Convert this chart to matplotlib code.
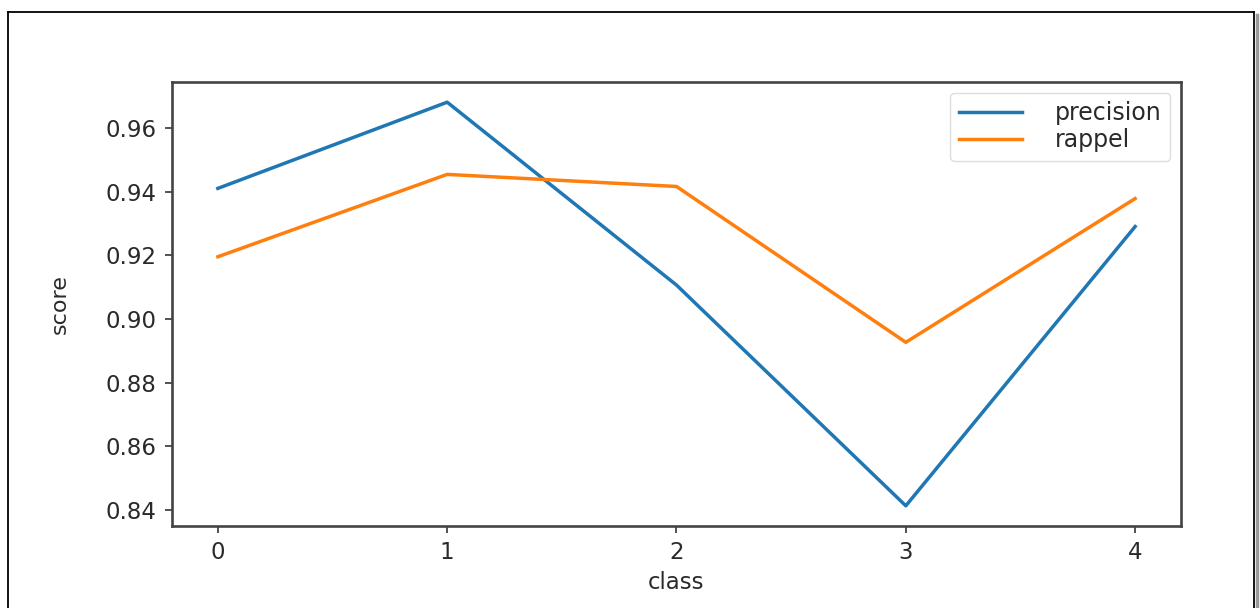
import matplotlib
matplotlib.use("Agg")
import matplotlib.pyplot as plt
from matplotlib.lines import Line2D

# per-class scores
classes = [0, 1, 2, 3, 4]
precision = [0.9411, 0.9682, 0.9107, 0.8413, 0.9291]
rappel = [0.9196, 0.9455, 0.9417, 0.8927, 0.9379]

plt.rcParams['font.family'] = ['DejaVu Sans']

fig = plt.figure(figsize=(12.6, 6.08), dpi=100)
ax = fig.add_axes([0.1365, 0.1349, 0.8008, 0.7302])

ax.plot(classes, precision, color='#1f77b4', lw=2.5, label='precision')
ax.plot(classes, rappel, color='#ff7f0e', lw=2.5, label='rappel')

ax.set_xticks(classes)
ax.set_yticks([0.84, 0.86, 0.88, 0.90, 0.92, 0.94, 0.96])
ax.tick_params(labelsize=16.5, length=5, width=1.3, color='#444444', labelcolor='#2a2a2a', pad=6)
ax.set_xlabel('class', fontsize=16.5, color='#2a2a2a', labelpad=5)
ax.set_ylabel('score', fontsize=16, color='#2a2a2a', labelpad=26)

for sp in ax.spines.values():
    sp.set_color('#444444')
    sp.set_linewidth(1.9)

leg = ax.legend(loc='upper right', fontsize=17, handlelength=2.7, handletextpad=1.4,
                borderaxespad=0.45, borderpad=0.35, labelspacing=0.15, framealpha=1)
leg.get_frame().set_edgecolor('#dddddd')
for t in leg.get_texts():
    t.set_color('#2a2a2a')

# page frame around the figure
x0, x1, ytop = 8 / 1260, 1254 / 1260, 1 - 12 / 608
fig.add_artist(Line2D([x0, x0], [0, ytop], transform=fig.transFigure, color='black', lw=1.3))
fig.add_artist(Line2D([x0, x1], [ytop, ytop], transform=fig.transFigure, color='black', lw=1.3))
fig.add_artist(Line2D([x1, x1], [0, ytop], transform=fig.transFigure, color='black', lw=1.3))
fig.add_artist(Line2D([x1 + 2.5 / 1260, x1 + 2.5 / 1260], [0, ytop - 3 / 608],
                      transform=fig.transFigure, color='#999999', lw=2.5))

fig.savefig('out.png', dpi=100)
